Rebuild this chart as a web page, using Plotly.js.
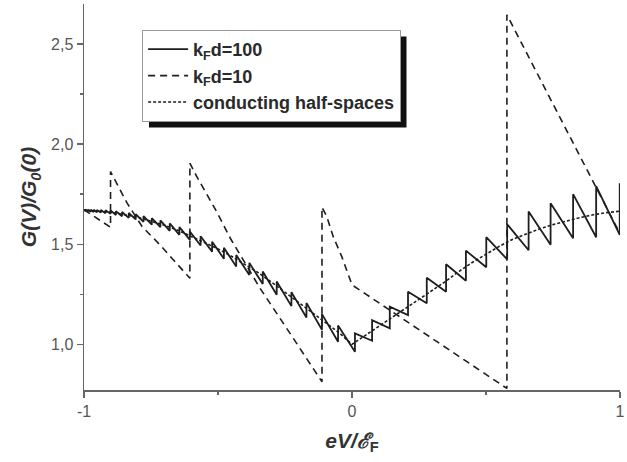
<!DOCTYPE html>
<html>
<head>
<meta charset="utf-8">
<script src="https://cdn.plot.ly/plotly-3.0.1.min.js"></script>
<style>html,body{margin:0;padding:0;background:#fff;}#chart{width:627px;height:462px;}</style>
</head>
<body>
<div id="chart"></div>
<script>
// ---- data ----
// k_F d = 100 : positions of the conductance jumps, value just before and just after each jump
const thickJumpX = [-0.999,-0.996,-0.991,-0.984,-0.975,-0.964,-0.952,-0.937,-0.920,-0.901,
  -0.881,-0.858,-0.833,-0.807,-0.778,-0.747,-0.715,-0.680,-0.644,-0.605,
  -0.565,-0.522,-0.478,-0.432,-0.383,-0.333,-0.281,-0.226,-0.170,-0.112,
  -0.052,0.011,0.075,0.141,0.209,0.279,0.351,0.425,0.501,0.579,
  0.659,0.741,0.825,0.911,0.999];
const thickBefore = [1.666,1.666,1.665,1.664,1.662,1.661,1.659,1.658,1.655,1.652,
  1.646,1.640,1.632,1.624,1.612,1.598,1.585,1.567,1.547,1.522,
  1.494,1.463,1.428,1.389,1.347,1.301,1.248,1.191,1.134,1.073,
  1.013,0.963,1.018,1.080,1.146,1.205,1.263,1.318,1.385,1.425,
  1.470,1.497,1.530,1.535,1.547];
const thickAfter = [1.674,1.674,1.673,1.673,1.672,1.672,1.671,1.671,1.670,1.669,
  1.665,1.661,1.656,1.651,1.641,1.630,1.619,1.604,1.586,1.564,
  1.540,1.513,1.482,1.446,1.407,1.364,1.314,1.261,1.207,1.151,
  1.094,1.055,1.121,1.188,1.263,1.333,1.400,1.468,1.535,1.600,
  1.663,1.705,1.750,1.790,1.800];
const thickStart = [-1, 1.670];
const thickEnd = [1, 1.800];

// k_F d = 10
const thinX = [-1,-0.901,-0.901,-0.895,-0.839,-0.783,-0.715,-0.605,-0.605,-0.580,-0.554,-0.504,-0.454,-0.392,-0.343,-0.219,-0.112,-0.112,-0.094,-0.070,-0.038,0.000,0.578,0.578,1.000];
const thinY = [1.672,1.585,1.863,1.847,1.705,1.588,1.495,1.330,1.905,1.840,1.780,1.660,1.530,1.390,1.280,1.030,0.813,1.685,1.638,1.538,1.438,1.297,0.780,2.646,1.553];

// conducting half-spaces
const halfX = [-1,-0.95,-0.9,-0.85,-0.8,-0.75,-0.7,-0.65,-0.6,-0.55,-0.5,-0.45,-0.4,-0.35,-0.3,-0.25,-0.2,-0.15,-0.1,-0.05,0,
  0.05,0.1,0.15,0.2,0.25,0.3,0.35,0.4,0.45,0.5,0.55,0.6,0.65,0.7,0.75,0.8,0.85,0.9,0.95,1.0];
const halfY = [1.670,1.665,1.660,1.648,1.635,1.615,1.595,1.570,1.540,1.510,1.477,1.440,1.400,1.358,1.310,1.260,1.210,1.160,1.110,1.060,1.000,
  1.045,1.090,1.135,1.180,1.225,1.270,1.315,1.365,1.410,1.450,1.490,1.525,1.553,1.577,1.598,1.617,1.633,1.647,1.658,1.665];

const seriesNames = ['<b>k<sub>F</sub>d=100</b>', '<b>k<sub>F</sub>d=10</b>', '<b>conducting half-spaces</b>'];
const yTickVals = [1.0, 1.5, 2.0, 2.5];
const yTickText = ['1,0', '1,5', '2,0', '2,5'];
const xTickVals = [-1, 0, 1];
const xTickText = ['-1', '0', '1'];

// build the sawtooth polyline from the jump table
const tx = [thickStart[0]], ty = [thickStart[1]];
for (let i = 0; i < thickJumpX.length; i++) {
  tx.push(thickJumpX[i], thickJumpX[i]);
  ty.push(thickBefore[i], thickAfter[i]);
}
tx.push(thickEnd[0]); ty.push(thickEnd[1]);

const ink = '#1e1e1e';
const traces = [
  {x: tx, y: ty, mode: 'lines', name: seriesNames[0], line: {color: ink, width: 1.8}},
  {x: thinX, y: thinY, mode: 'lines', name: seriesNames[1], line: {color: ink, width: 1.6, dash: '7px,5px'}},
  {x: halfX, y: halfY, mode: 'lines', name: seriesNames[2], line: {color: ink, width: 1.6, dash: '3px,2px'}}
];

const font = 'Liberation Sans, Arial, Helvetica, sans-serif';
const M = {l: 83.5, r: 6.5, t: 4, b: 72};
const layout = {
  width: 627, height: 462,
  margin: M,
  paper_bgcolor: '#fff', plot_bgcolor: '#fff',
  font: {family: font, color: '#444', size: 16},
  showlegend: true,
  legend: {
    x: 0.1084, y: 0.9326, xanchor: 'left', yanchor: 'top',
    bgcolor: '#fff', bordercolor: '#999', borderwidth: 1,
    font: {family: font, size: 18, color: '#2a2a2a'},
    itemwidth: 40, tracegroupgap: 0
  },
  xaxis: {
    range: [-1, 1], showgrid: false, zeroline: false,
    showline: true, linecolor: '#666', linewidth: 1.5,
    ticks: 'outside', ticklen: 6, tickwidth: 1.5, tickcolor: '#666',
    tickvals: xTickVals, ticktext: xTickText,
    minor: {ticks: 'outside', ticklen: 3, tickwidth: 1.5, tickcolor: '#666', tickvals: [-0.5, 0.5]},
    tickfont: {size: 16, color: '#555'},
    title: {text: '<b><i>eV/ℰ</i><sub>F</sub></b>', font: {size: 21, color: '#333'}, standoff: 14}
  },
  yaxis: {
    range: [0.772, 2.70], showgrid: false, zeroline: false,
    showline: true, linecolor: '#666', linewidth: 1.5,
    ticks: 'outside', ticklen: 6, tickwidth: 1.5, tickcolor: '#666',
    tickvals: yTickVals, ticktext: yTickText,
    minor: {ticks: 'outside', ticklen: 3, tickwidth: 1.5, tickcolor: '#666', tickvals: [1.25, 1.75, 2.25]},
    tickfont: {size: 16, color: '#555'},
    title: {text: '<b><i>G(V)/G<sub>0</sub>(0)</i></b>', font: {size: 21, color: '#333'}, standoff: 8}
  },
  shapes: []
};

Plotly.newPlot('chart', traces, layout, {displayModeBar: false, staticPlot: true}).then(function (gd) {
  // drop shadow behind the legend box, offset 6px right and down
  const bg = gd.querySelector('.legend .bg');
  if (!bg) return;
  const r = bg.getBoundingClientRect();
  const c = gd.getBoundingClientRect();
  const pw = 627 - M.l - M.r, ph = 462 - M.t - M.b;
  const off = 6;
  const px = v => (v - c.left - M.l) / pw;
  const py = v => 1 - (v - c.top - M.t) / ph;
  return Plotly.relayout(gd, {shapes: [{
    type: 'rect', xref: 'paper', yref: 'paper',
    x0: px(r.left + off), x1: px(r.right + off),
    y0: py(r.bottom + off), y1: py(r.top + off),
    fillcolor: '#111', line: {width: 0}, layer: 'above'
  }]});
});
</script>
</body>
</html>
